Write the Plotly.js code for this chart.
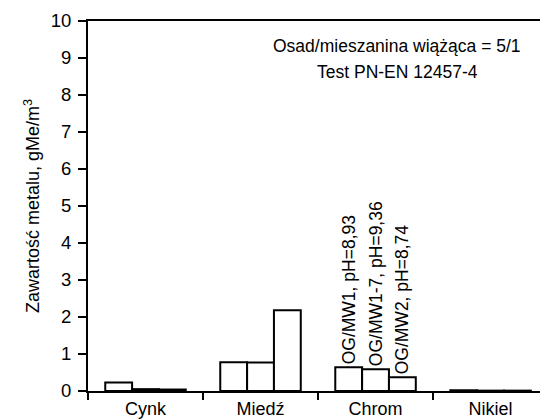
<!DOCTYPE html>
<html>
<head>
<meta charset="utf-8">
<script src="https://cdn.plot.ly/plotly-3.0.1.min.js"></script>
<style>html,body{margin:0;padding:0;overflow:hidden;background:#fff;}</style>
</head>
<body>
<div id="chart" style="width:540px;height:419px;"></div>
<script>
const categories = ["Cynk", "Miedź", "Chrom", "Nikiel"];
const seriesNames = ["OG/MW1", "OG/MW1-7", "OG/MW2"];
const valuesMW1 = [0.23, 0.78, 0.64, 0.02];
const valuesMW17 = [0.05, 0.77, 0.59, 0.01];
const valuesMW2 = [0.04, 2.18, 0.37, 0.01];
const labelsMW1 = ["", "", "OG/MW1, pH=8,93", ""];
const labelsMW17 = ["", "", "OG/MW1-7, pH=9,36", ""];
const labelsMW2 = ["", "", "OG/MW2, pH=8,74", ""];
const yTicks = [0, 1, 2, 3, 4, 5, 6, 7, 8, 9, 10];

const font = "Liberation Sans, Arial, sans-serif";
function mk(name, y, text) {
  return {
    type: "bar", name: name, x: categories, y: y, text: text,
    textposition: "outside", textangle: -90, cliponaxis: false,
    constraintext: "none",
    outsidetextfont: {family: font, size: 17.5, color: "#000"},
    marker: {color: "#ffffff", line: {color: "#000", width: 2}},
    hoverinfo: "x+y"
  };
}
const data = [mk(seriesNames[0], valuesMW1, labelsMW1),
              mk(seriesNames[1], valuesMW17, labelsMW17),
              mk(seriesNames[2], valuesMW2, labelsMW2)];

const layout = {
  width: 540, height: 419,
  margin: {l: 88, r: 0, t: 21, b: 28, pad: 0},
  paper_bgcolor: "#fff", plot_bgcolor: "#fff",
  showlegend: false,
  barmode: "group", bargap: 0.3, bargroupgap: 0,
  font: {family: font, size: 18, color: "#000"},
  xaxis: {
    type: "category", range: [-0.5, 3.43],
    showline: true, linecolor: "#000", linewidth: 2, mirror: true,
    ticks: "outside", tickson: "boundaries", ticklen: 7, tickwidth: 2, tickcolor: "#000",
    ticklabelstandoff: 0,
    showgrid: false, zeroline: false,
    tickfont: {family: font, size: 18, color: "#000"}
  },
  yaxis: {
    range: [0, 10], tickvals: yTicks, ticktext: yTicks.map(String),
    showline: true, linecolor: "#000", linewidth: 2,
    ticks: "outside", ticklen: 8, tickwidth: 2, tickcolor: "#000",
    ticklabelstandoff: 3,
    showgrid: false, zeroline: false,
    tickfont: {family: font, size: 18.5, color: "#000"},
    title: {text: "Zawartość metalu, gMe/m<sup>3</sup>", font: {family: font, size: 18, color: "#000"}, standoff: 6}
  },
  annotations: [
    {xref: "paper", yref: "paper", x: 0.684, y: 0.932, text: "Osad/mieszanina wiążąca = 5/1",
     showarrow: false, xanchor: "center", yanchor: "middle", font: {family: font, size: 17.5, color: "#000"}},
    {xref: "paper", yref: "paper", x: 0.684, y: 0.862, text: "Test PN-EN 12457-4",
     showarrow: false, xanchor: "center", yanchor: "middle", font: {family: font, size: 17.5, color: "#000"}}
  ]
};
Plotly.newPlot("chart", data, layout, {displayModeBar: false, staticPlot: true});
</script>
</body>
</html>
